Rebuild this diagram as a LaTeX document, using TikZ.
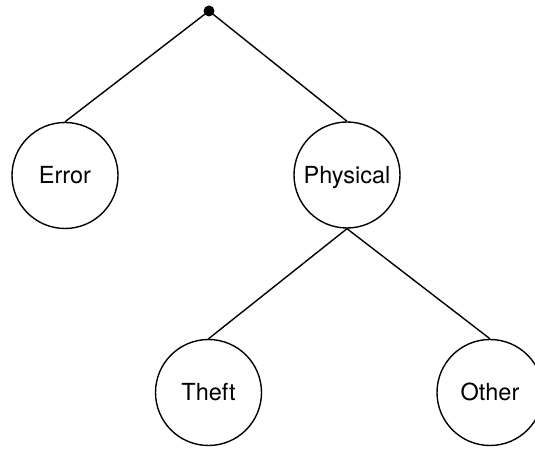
\documentclass[tikz,border=0pt]{standalone}
\usepackage{fontspec}
\setmainfont{TeX Gyre Heros}
\begin{document}
\begin{tikzpicture}[x=1pt,y=1pt,
  leaf/.style={draw,circle,line width=1.4pt,minimum size=106pt,inner sep=0pt,
    font=\fontsize{23.5}{28}\selectfont,text height=17pt,text depth=0pt},
  rootdot/.style={circle,fill,minimum size=11pt,inner sep=0pt},
  edge/.style={line width=1.4pt}]
\useasboundingbox (0,0) rectangle (535,449);
\clip (0,0) rectangle (535,449);
\node[rootdot] (root) at (209,438) {};
\node[leaf] (err) at (65,273.5) {Error};
\node[leaf] (phys) at (347,274) {Physical};
\node[leaf] (theft) at (208.5,56.5) {Theft};
\node[leaf] (other) at (490,56.5) {Other};
\draw[edge] (root.center) -- (err.north);
\draw[edge] (root.center) -- (phys.north);
\draw[edge] (phys.south) -- (theft.north);
\draw[edge] (phys.south) -- (other.north);
\end{tikzpicture}
\end{document}
